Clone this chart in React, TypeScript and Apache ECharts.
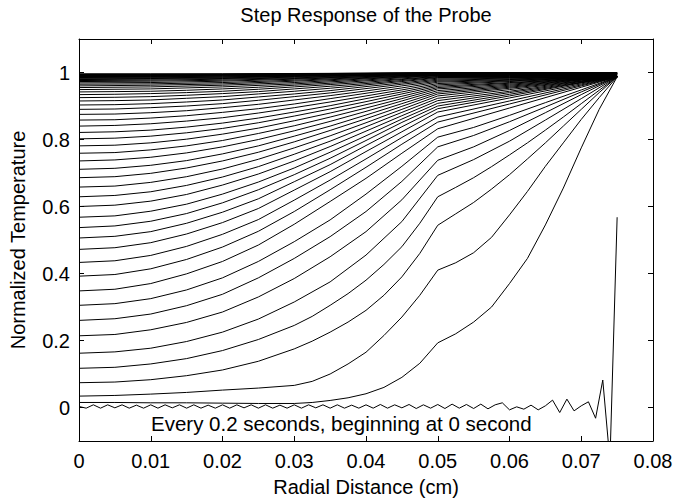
import { useEffect, useRef } from "react";
import * as echarts from "echarts";

// Radial positions (cm) of the sampled points
const R_T0 = [
  0, 0.001, 0.002, 0.003, 0.004, 0.005, 0.006, 0.007, 0.008, 0.009,
  0.01, 0.011, 0.012, 0.013, 0.014, 0.015, 0.016, 0.017, 0.018, 0.019,
  0.02, 0.021, 0.022, 0.023, 0.024, 0.025, 0.026, 0.027, 0.028, 0.029,
  0.03, 0.031, 0.032, 0.033, 0.034, 0.035, 0.036, 0.037, 0.038, 0.039,
  0.04, 0.041, 0.042, 0.043, 0.044, 0.045, 0.046, 0.047, 0.048, 0.049,
  0.05, 0.051, 0.052, 0.053, 0.054, 0.055, 0.056, 0.057, 0.058, 0.059,
  0.06, 0.061, 0.062, 0.063, 0.064, 0.065, 0.066, 0.067, 0.068, 0.069,
  0.07, 0.071, 0.072, 0.073, 0.074, 0.075,
];
const R_EARLY = [
  0, 0.005, 0.01, 0.015, 0.02, 0.025, 0.03, 0.0325, 0.035, 0.0375, 0.04, 0.0425,
  0.045, 0.0475, 0.05, 0.0525, 0.055, 0.0575, 0.06, 0.0625, 0.065, 0.0675, 0.07, 0.0725, 0.075,
];
const R_FINE = [0, 0.005, 0.01, 0.015, 0.02, 0.025, 0.03, 0.035, 0.04, 0.045, 0.05, 0.055, 0.06, 0.065, 0.07, 0.075];
const R_MID = [0, 0.005, 0.01, 0.015, 0.02, 0.025, 0.03, 0.035, 0.04, 0.045, 0.05, 0.06, 0.07, 0.075];
const R_COARSE = [0, 0.01, 0.02, 0.03, 0.04, 0.05, 0.06, 0.07, 0.075];

// t = 0 s (initial profile with numerical ripple)
const T0_0 = [
  0.003, -0.002, 0.008, -0.002, 0.008, -0.001, 0.008, -0.002, 0.007, -0.002,
  0.008, -0.002, 0.008, -0.001, 0.008, -0.002, 0.008, -0.002, 0.007, -0.002,
  0.008, -0.002, 0.008, -0.001, 0.008, -0.002, 0.008, -0.002, 0.007, -0.002,
  0.008, -0.002, 0.008, -0.001, 0.008, -0.002, 0.008, -0.002, 0.007, -0.002,
  0.008, -0.002, 0.009, -0.002, 0.008, -0.001, 0.009, -0.003, 0.008, -0.002,
  0.009, -0.003, 0.010, -0.002, 0.009, -0.003, 0.010, -0.004, 0.008, 0.014,
  -0.007, 0.002, -0.005, 0.007, -0.007, 0.005, 0.022, -0.015, 0.025, -0.010,
  0.005, 0.017, -0.032, 0.082, -0.16, 0.568,
];

// early profiles on R_EARLY
const T0_2 = [
  0.015, 0.015, 0.014, 0.014, 0.013, 0.012, 0.012, 0.015, 0.021, 0.029, 0.041, 0.060,
  0.090, 0.132, 0.193, 0.220, 0.255, 0.300, 0.370, 0.445, 0.545, 0.655, 0.775, 0.890, 0.987,
];
const T0_4 = [
  0.034, 0.036, 0.040, 0.045, 0.052, 0.058, 0.066, 0.078, 0.100, 0.130, 0.165, 0.215,
  0.270, 0.335, 0.410, 0.432, 0.462, 0.508, 0.575, 0.645, 0.720, 0.790, 0.860, 0.925, 0.987,
];
const T0_6 = [
  0.074, 0.076, 0.083, 0.095, 0.112, 0.138, 0.175, 0.198, 0.225, 0.255, 0.290, 0.335,
  0.390, 0.460, 0.544, 0.578, 0.612, 0.652, 0.695, 0.742, 0.790, 0.840, 0.890, 0.940, 0.987,
];
const T0_8 = [
  0.117, 0.120, 0.130, 0.146, 0.170, 0.203, 0.245, 0.272, 0.305, 0.340, 0.380, 0.427,
  0.480, 0.550, 0.629, 0.657, 0.686, 0.719, 0.754, 0.790, 0.828, 0.867, 0.907, 0.947, 0.987,
];

// profiles on R_FINE
const T1_0 = [0.162, 0.166, 0.177, 0.197, 0.225, 0.264, 0.315, 0.375, 0.455, 0.555, 0.693, 0.740, 0.795, 0.858, 0.922, 0.987];
const T1_2 = [0.214, 0.218, 0.232, 0.254, 0.285, 0.330, 0.385, 0.450, 0.525, 0.620, 0.738, 0.778, 0.827, 0.880, 0.934, 0.987];
const T1_4 = [0.260, 0.265, 0.279, 0.304, 0.338, 0.387, 0.445, 0.510, 0.585, 0.675, 0.778, 0.812, 0.853, 0.897, 0.942, 0.987];
const T1_6 = [0.305, 0.310, 0.325, 0.351, 0.387, 0.436, 0.495, 0.560, 0.637, 0.720, 0.807, 0.836, 0.872, 0.910, 0.948, 0.987];

// profiles on R_MID, t = 1.8 s ... 6.6 s
const T_MID = [
  [0.348, 0.353, 0.370, 0.399, 0.436, 0.485, 0.547, 0.615, 0.684, 0.759, 0.832, 0.894, 0.956, 0.987],
  [0.392, 0.397, 0.414, 0.442, 0.479, 0.526, 0.585, 0.650, 0.717, 0.786, 0.852, 0.906, 0.960, 0.987],
  [0.433, 0.438, 0.454, 0.481, 0.517, 0.561, 0.619, 0.679, 0.742, 0.806, 0.867, 0.915, 0.963, 0.987],
  [0.472, 0.477, 0.492, 0.518, 0.552, 0.594, 0.649, 0.704, 0.764, 0.823, 0.882, 0.924, 0.966, 0.987],
  [0.506, 0.511, 0.525, 0.550, 0.583, 0.623, 0.674, 0.725, 0.782, 0.838, 0.892, 0.930, 0.969, 0.987],
  [0.537, 0.542, 0.556, 0.579, 0.611, 0.650, 0.695, 0.744, 0.797, 0.851, 0.900, 0.935, 0.970, 0.987],
  [0.568, 0.572, 0.586, 0.607, 0.637, 0.673, 0.715, 0.762, 0.811, 0.861, 0.908, 0.940, 0.971, 0.987],
  [0.600, 0.604, 0.616, 0.636, 0.664, 0.697, 0.736, 0.779, 0.825, 0.871, 0.916, 0.944, 0.973, 0.987],
  [0.629, 0.633, 0.644, 0.663, 0.688, 0.719, 0.756, 0.795, 0.838, 0.881, 0.923, 0.949, 0.974, 0.987],
  [0.658, 0.661, 0.672, 0.689, 0.712, 0.741, 0.775, 0.811, 0.850, 0.890, 0.930, 0.953, 0.975, 0.987],
  [0.686, 0.689, 0.699, 0.715, 0.736, 0.762, 0.793, 0.827, 0.862, 0.899, 0.936, 0.956, 0.977, 0.987],
  [0.711, 0.714, 0.723, 0.737, 0.757, 0.781, 0.810, 0.840, 0.873, 0.907, 0.941, 0.959, 0.978, 0.987],
  [0.736, 0.739, 0.747, 0.760, 0.778, 0.800, 0.826, 0.854, 0.884, 0.915, 0.946, 0.962, 0.979, 0.987],
  [0.759, 0.761, 0.769, 0.781, 0.797, 0.818, 0.841, 0.867, 0.894, 0.922, 0.951, 0.965, 0.980, 0.987],
  [0.781, 0.783, 0.790, 0.801, 0.816, 0.834, 0.856, 0.879, 0.904, 0.929, 0.955, 0.968, 0.981, 0.987],
  [0.802, 0.804, 0.810, 0.820, 0.833, 0.850, 0.870, 0.891, 0.913, 0.936, 0.959, 0.970, 0.981, 0.987],
  [0.821, 0.823, 0.828, 0.837, 0.849, 0.864, 0.882, 0.901, 0.922, 0.942, 0.963, 0.973, 0.982, 0.987],
  [0.840, 0.842, 0.847, 0.855, 0.865, 0.879, 0.895, 0.912, 0.930, 0.948, 0.967, 0.975, 0.983, 0.987],
  [0.858, 0.859, 0.864, 0.871, 0.881, 0.892, 0.906, 0.922, 0.938, 0.954, 0.971, 0.977, 0.984, 0.987],
  [0.875, 0.876, 0.880, 0.886, 0.895, 0.905, 0.918, 0.931, 0.945, 0.960, 0.974, 0.979, 0.984, 0.988],
  [0.890, 0.891, 0.895, 0.900, 0.907, 0.917, 0.928, 0.939, 0.952, 0.965, 0.977, 0.981, 0.985, 0.988],
  [0.903, 0.904, 0.907, 0.912, 0.918, 0.927, 0.936, 0.946, 0.958, 0.969, 0.980, 0.983, 0.986, 0.988],
  [0.915, 0.916, 0.918, 0.923, 0.928, 0.936, 0.944, 0.953, 0.963, 0.973, 0.983, 0.985, 0.986, 0.988],
  [0.925, 0.926, 0.928, 0.932, 0.937, 0.943, 0.951, 0.959, 0.967, 0.976, 0.985, 0.986, 0.987, 0.988],
  [0.934, 0.935, 0.937, 0.940, 0.944, 0.950, 0.957, 0.964, 0.971, 0.979, 0.987, 0.987, 0.988, 0.988],
  [0.942, 0.943, 0.944, 0.947, 0.951, 0.956, 0.962, 0.968, 0.975, 0.981, 0.988, 0.988, 0.989, 0.989],
];

// profiles on R_COARSE, t = 7.0 s ... 10.8 s
const T_LATE = [
  [0.949, 0.951, 0.957, 0.966, 0.978, 0.990, 0.990, 0.990, 0.990],
  [0.955, 0.957, 0.962, 0.970, 0.981, 0.991, 0.991, 0.991, 0.991],
  [0.960, 0.962, 0.966, 0.974, 0.983, 0.992, 0.992, 0.992, 0.992],
  [0.965, 0.966, 0.970, 0.977, 0.985, 0.993, 0.993, 0.993, 0.993],
  [0.969, 0.970, 0.974, 0.980, 0.987, 0.994, 0.994, 0.994, 0.994],
  [0.973, 0.974, 0.977, 0.982, 0.988, 0.994, 0.994, 0.994, 0.994],
  [0.976, 0.977, 0.980, 0.984, 0.990, 0.995, 0.995, 0.995, 0.995],
  [0.979, 0.980, 0.982, 0.986, 0.991, 0.996, 0.996, 0.996, 0.996],
  [0.981, 0.982, 0.984, 0.988, 0.992, 0.996, 0.996, 0.996, 0.996],
  [0.983, 0.984, 0.986, 0.989, 0.993, 0.997, 0.997, 0.997, 0.997],
  [0.985, 0.986, 0.987, 0.990, 0.994, 0.997, 0.997, 0.997, 0.997],
  [0.987, 0.987, 0.989, 0.991, 0.994, 0.997, 0.997, 0.997, 0.997],
  [0.988, 0.988, 0.990, 0.992, 0.995, 0.998, 0.998, 0.998, 0.998],
  [0.990, 0.990, 0.992, 0.993, 0.996, 0.998, 0.998, 0.998, 0.998],
  [0.991, 0.991, 0.992, 0.994, 0.996, 0.998, 0.998, 0.998, 0.998],
  [0.992, 0.992, 0.993, 0.995, 0.997, 0.998, 0.998, 0.998, 0.998],
  [0.993, 0.993, 0.994, 0.995, 0.997, 0.999, 0.999, 0.999, 0.999],
  [0.994, 0.994, 0.995, 0.996, 0.997, 0.999, 0.999, 0.999, 0.999],
  [0.995, 0.995, 0.995, 0.996, 0.998, 0.999, 0.999, 0.999, 0.999],
  [0.996, 0.996, 0.996, 0.997, 0.998, 0.999, 0.999, 0.999, 0.999],
];

const Y_TICKS = [0, 0.2, 0.4, 0.6, 0.8, 1];

const TITLE = "Step Response of the Probe";
const X_NAME = "Radial Distance (cm)";
const Y_NAME = "Normalized Temperature";
const NOTE = "Every 0.2 seconds, beginning at 0 second";

const FONT = "'Liberation Sans', Arial, Helvetica, sans-serif";

export default function App() {
  const ref = useRef<HTMLDivElement>(null);

  useEffect(() => {
    if (!ref.current) return;
    const chart = echarts.init(ref.current, null, { renderer: "svg" });

    const profiles: { r: number[]; v: number[] }[] = [
      { r: R_T0, v: T0_0 },
      { r: R_EARLY, v: T0_2 },
      { r: R_EARLY, v: T0_4 },
      { r: R_EARLY, v: T0_6 },
      { r: R_EARLY, v: T0_8 },
      { r: R_FINE, v: T1_0 },
      { r: R_FINE, v: T1_2 },
      { r: R_FINE, v: T1_4 },
      { r: R_FINE, v: T1_6 },
      ...T_MID.map((v) => ({ r: R_MID, v })),
      ...T_LATE.map((v) => ({ r: R_COARSE, v })),
    ];

    const series = profiles.map((p) => ({
      type: "line" as const,
      xAxisIndex: 0,
      yAxisIndex: 0,
      data: p.r.map((r, i) => [r, p.v[i]]),
      symbol: "none",
      silent: true,
      clip: true,
      lineStyle: { color: "#000", width: 1 },
    }));

    const axisLine = { show: true, onZero: false, lineStyle: { color: "#000", width: 1 } };
    const tick = { show: true, inside: true, length: 5, lineStyle: { color: "#000", width: 1 } };

    chart.setOption({
      animation: false,
      backgroundColor: "#fff",
      textStyle: { fontFamily: FONT },
      grid: { left: 79, top: 39, width: 574, height: 402, outerBoundsMode: "none", containLabel: false },
      xAxis: [
        {
          type: "value",
          position: "bottom",
          min: 0,
          max: 0.08,
          interval: 0.01,
          axisLine,
          axisTick: tick,
          axisLabel: { color: "#000", fontSize: 20, margin: 10, fontFamily: FONT },
          splitLine: { show: false },
        },
        {
          type: "value",
          position: "top",
          min: 0,
          max: 0.08,
          interval: 0.01,
          axisLine,
          axisTick: tick,
          axisLabel: { show: false },
          splitLine: { show: false },
        },
      ],
      yAxis: [
        {
          type: "value",
          position: "left",
          min: -0.1,
          max: 1.1,
          axisLine,
          axisTick: { ...tick, customValues: Y_TICKS },
          axisLabel: {
            color: "#000",
            fontSize: 20,
            margin: 9,
            fontFamily: FONT,
            customValues: Y_TICKS,
            formatter: (v: number) => String(v),
          },
          splitLine: { show: false },
        },
        {
          type: "value",
          position: "right",
          min: -0.1,
          max: 1.1,
          axisLine,
          axisTick: { ...tick, customValues: Y_TICKS },
          axisLabel: { show: false, customValues: Y_TICKS },
          splitLine: { show: false },
        },
      ],
      graphic: [
        {
          type: "text",
          x: 366,
          y: 15,
          style: { text: TITLE, fontSize: 20, fontFamily: FONT, fill: "#000", align: "center", verticalAlign: "middle" },
        },
        {
          type: "text",
          x: 366,
          y: 487,
          style: { text: X_NAME, fontSize: 20, fontFamily: FONT, fill: "#000", align: "center", verticalAlign: "middle" },
        },
        {
          type: "text",
          x: 18,
          y: 240,
          rotation: Math.PI / 2,
          style: { text: Y_NAME, fontSize: 20, fontFamily: FONT, fill: "#000", align: "center", verticalAlign: "middle" },
        },
        {
          type: "text",
          x: 151,
          y: 423,
          style: { text: NOTE, fontSize: 20.5, fontFamily: FONT, fill: "#000", align: "left", verticalAlign: "middle" },
        },
      ],
      series,
    });

    return () => chart.dispose();
  }, []);

  return (
    <div
      ref={ref}
      style={{ position: "fixed", left: 0, top: 0, width: 676, height: 498, background: "#fff" }}
    />
  );
}
